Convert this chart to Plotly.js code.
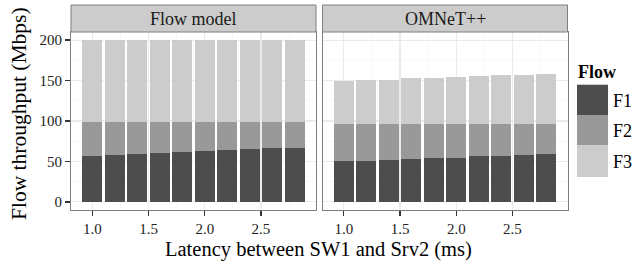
<!DOCTYPE html>
<html><head><meta charset="utf-8">
<script src="https://cdn.plot.ly/plotly-3.0.1.min.js"></script>
<style>html,body{margin:0;padding:0;background:#fff}#chart{width:642px;height:261px}</style>
</head><body><div id="chart"></div>
<script>
const latency = [1.0, 1.2, 1.4, 1.6, 1.8, 2.0, 2.2, 2.4, 2.6, 2.8];
const xTickVals = [1.0, 1.5, 2.0, 2.5];
const xTickText = ['1.0', '1.5', '2.0', '2.5'];
const yTickVals = [0, 50, 100, 150, 200];
const yTickText = ['0', '50', '100', '150', '200'];
const facets = ['Flow model', 'OMNeT++'];
const flows = ['F1', 'F2', 'F3'];
const flowColors = ['#4d4d4d', '#999999', '#cccccc'];

const flowModelF1 = [57.1, 58.4, 59.6, 60.9, 62.1, 63.4, 64.6, 65.8, 67.1, 67.1];
const flowModelF2 = [42.1, 40.8, 39.6, 38.3, 37.1, 35.8, 34.6, 33.4, 32.1, 32.1];
const flowModelF3 = [100.8, 100.8, 100.8, 100.8, 100.8, 100.8, 100.8, 100.8, 100.8, 100.8];

const omnetF1 = [50.3, 50.3, 51.6, 52.8, 54.1, 54.1, 56.6, 56.6, 57.8, 59.1];
const omnetF2 = [46.6, 46.6, 45.3, 44.1, 42.8, 42.8, 40.3, 40.3, 39.1, 37.8];
const omnetF3 = [52.2, 53.4, 53.4, 55.9, 55.9, 57.1, 58.4, 59.6, 59.6, 60.9];

const W = 642, H = 261;
const px = v => v / W;
const py = v => 1 - v / H;
const FONT = 'Liberation Serif, Times New Roman, serif';

const panelData = [[flowModelF1, flowModelF2, flowModelF3], [omnetF1, omnetF2, omnetF3]];
const traces = [];
panelData.forEach((series, p) => {
  series.forEach((vals, i) => {
    traces.push({
      type: 'bar', x: latency, y: vals, width: 0.18,
      name: flows[i], marker: {color: flowColors[i], line: {width: 0}},
      xaxis: p === 0 ? 'x' : 'x2', yaxis: p === 0 ? 'y' : 'y2',
      showlegend: false, hoverinfo: 'skip'
    });
  });
});

const panels = [[71, 316], [322.5, 567.5]];
const panelTop = 32, panelBottom = 210, stripTop = 5;

function xAxis(dom, anchor) {
  return {
    domain: dom, anchor: anchor, range: [0.811, 2.989],
    tickvals: xTickVals, ticktext: xTickText,
    ticks: 'outside', ticklen: 5, tickwidth: 1.2, tickcolor: '#333',
    tickfont: {family: FONT, size: 15, color: '#222'},
    showline: true, mirror: true, linecolor: '#7f7f7f', linewidth: 1,
    showgrid: true, gridcolor: '#ebebeb', gridwidth: 1.1, zeroline: false,
    minor: {tickvals: [0.75, 1.25, 1.75, 2.25, 2.75], showgrid: true, gridcolor: '#f3f3f3', gridwidth: 0.6, ticks: ''},
    fixedrange: true
  };
}
function yAxis(anchor, labels) {
  return {
    domain: [py(panelBottom), py(panelTop)], anchor: anchor, range: [-10, 210],
    tickvals: yTickVals, ticktext: yTickText, showticklabels: labels,
    ticks: labels ? 'outside' : '', ticklen: 5, tickwidth: 1.2, tickcolor: '#333',
    tickfont: {family: FONT, size: 15, color: '#222'},
    showline: true, mirror: true, linecolor: '#7f7f7f', linewidth: 1,
    showgrid: true, gridcolor: '#ebebeb', gridwidth: 1.1, zeroline: false,
    minor: {tickvals: [25, 75, 125, 175], showgrid: true, gridcolor: '#f3f3f3', gridwidth: 0.6, ticks: ''},
    fixedrange: true
  };
}

const shapes = [];
const annotations = [];
panels.forEach((pp, i) => {
  shapes.push({type: 'rect', xref: 'paper', yref: 'paper', x0: px(pp[0]), x1: px(pp[1]), y0: py(panelTop), y1: py(stripTop),
    fillcolor: '#cccccc', line: {color: '#7f7f7f', width: 1}});
  annotations.push({xref: 'paper', yref: 'paper', x: px((pp[0] + pp[1]) / 2), y: py((panelTop + stripTop) / 2 + 0.5),
    xanchor: 'center', yanchor: 'middle', showarrow: false, text: facets[i],
    font: {family: FONT, size: 18, color: '#1a1a1a'}});
});

const keyX0 = 577, keyX1 = 608;
const keyY = [84.7, 115, 145.5, 177];
flows.forEach((f, i) => {
  shapes.push({type: 'rect', xref: 'paper', yref: 'paper', x0: px(keyX0), x1: px(keyX1), y0: py(keyY[i + 1]), y1: py(keyY[i]),
    fillcolor: flowColors[i], line: {width: 0}});
  annotations.push({xref: 'paper', yref: 'paper', x: px(611), y: py((keyY[i] + keyY[i + 1]) / 2 + 1),
    xanchor: 'left', yanchor: 'middle', showarrow: false, text: f,
    font: {family: FONT, size: 18, color: '#000'}});
});
annotations.push({xref: 'paper', yref: 'paper', x: px(576), y: py(72), xanchor: 'left', yanchor: 'middle', showarrow: false,
  text: '<b>Flow</b>', font: {family: FONT, size: 18, color: '#000'}});
annotations.push({xref: 'paper', yref: 'paper', x: px(318), y: py(249.5), xanchor: 'center', yanchor: 'middle', showarrow: false,
  text: 'Latency between SW1 and Srv2 (ms)', font: {family: FONT, size: 20.5, color: '#000'}});
annotations.push({xref: 'paper', yref: 'paper', x: px(19), y: py(114), xanchor: 'center', yanchor: 'middle', showarrow: false,
  textangle: -90, text: 'Flow throughput (Mbps)', font: {family: FONT, size: 21.5, color: '#000'}});

const layout = {
  width: W, height: H, margin: {l: 0, r: 0, t: 0, b: 0},
  paper_bgcolor: '#fff', plot_bgcolor: '#fff',
  barmode: 'stack', showlegend: false,
  xaxis: xAxis([px(panels[0][0]), px(panels[0][1])], 'y'),
  xaxis2: xAxis([px(panels[1][0]), px(panels[1][1])], 'y2'),
  yaxis: yAxis('x', true),
  yaxis2: Object.assign(yAxis('x2', false), {matches: 'y'}),
  shapes: shapes, annotations: annotations
};

Plotly.newPlot('chart', traces, layout, {displayModeBar: false, staticPlot: true});
</script>
</body></html>
